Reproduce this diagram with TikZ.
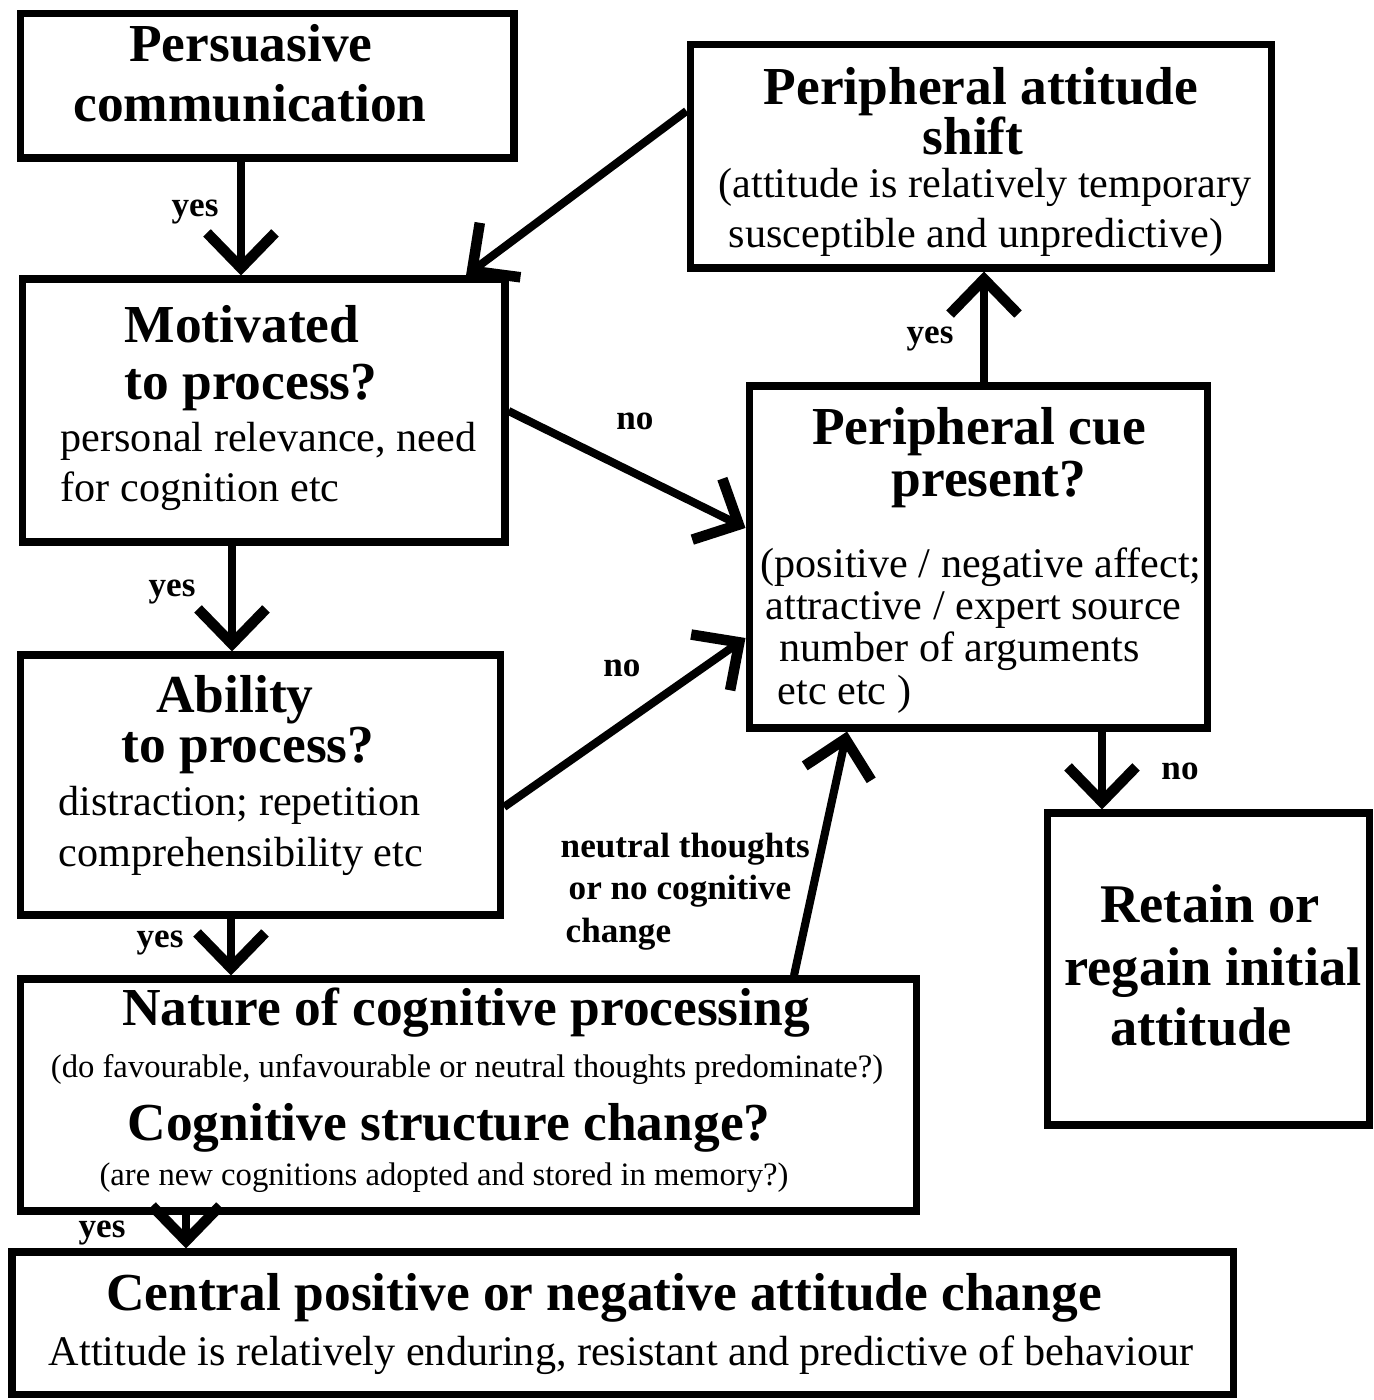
\documentclass[tikz,border=0pt]{standalone}
\usepackage{fontspec}
\setmainfont{Liberation Serif}
\usetikzlibrary{arrows.meta}

\begin{document}
\begin{tikzpicture}[x=0.1mm, y=-0.1mm,
    box/.style={draw, line width=2pt, inner sep=0pt},
    arr/.style={line width=2.3pt, -{Straight Barb[length=3.5mm,width=6.8mm,line width=3pt]}},
    head/.style={font=\fontsize{15.2}{17}\selectfont\bfseries, anchor=base, inner sep=0pt},
    body/.style={font=\fontsize{12}{14}\selectfont, anchor=base, inner sep=0pt},
    note/.style={font=\fontsize{9.3}{11}\selectfont, anchor=base, inner sep=0pt},
    lbl/.style={font=\fontsize{10}{12}\selectfont\bfseries, anchor=base, inner sep=0pt}]
  \useasboundingbox (0,0) rectangle (1373,1400);

  % boxes
  \node[box, minimum width=4.935cm, minimum height=1.44cm] (comm) at (267.25,86) {};
  \node[box, minimum width=4.825cm, minimum height=2.63cm] (motiv) at (263.75,410.5) {};
  \node[box, minimum width=5.81cm, minimum height=2.23cm] (pshift) at (980.5,156.5) {};
  \node[box, minimum width=4.58cm, minimum height=3.42cm] (cue) at (978,557) {};
  \node[box, minimum width=4.80cm, minimum height=2.60cm] (abil) at (260.5,785) {};
  \node[box, minimum width=3.22cm, minimum height=3.12cm] (retain) at (1208,969) {};
  \node[box, minimum width=8.955cm, minimum height=2.32cm] (nature) at (468.25,1095) {};
  \node[box, minimum width=12.21cm, minimum height=1.42cm] (central) at (622.5,1323) {};

  % texts
  \node[head] (comm-a) at (251,62) {Persuasive};
  \node[head] (comm-b) at (250,122) {communication};

  \node[head] (motiv-a) at (242,343) {Motivated};
  \node[head] (motiv-b) at (251,400) {to process?};
  \node[body, anchor=base west] (motiv-c) at (60,452) {personal relevance, need};
  \node[body, anchor=base west] (motiv-d) at (60,502) {for cognition etc};

  \node[head] (pshift-a) at (981,105) {Peripheral attitude};
  \node[head] (pshift-b) at (973,155) {shift};
  \node[body] (pshift-c) at (985,198) {(attitude is relatively temporary};
  \node[body] (pshift-d) at (976,248) {susceptible and unpredictive)};

  \node[head] (cue-a) at (979,445) {Peripheral cue};
  \node[head] (cue-b) at (989,497) {present?};
  \node[body, anchor=base west] (cue-c) at (760,578) {(positive / negative affect;};
  \node[body, anchor=base west] (cue-d) at (765,620) {attractive / expert source};
  \node[body, anchor=base west] (cue-e) at (779,662) {number of arguments};
  \node[body, anchor=base west] (cue-f) at (777,705) {etc etc )};

  \node[head] (abil-a) at (235,713) {Ability};
  \node[head] (abil-b) at (248,762) {to process?};
  \node[body, anchor=base west] (abil-c) at (58,815) {distraction; repetition};
  \node[body, anchor=base west] (abil-d) at (58,866) {comprehensibility etc};

  \node[head, font=\fontsize{15.5}{17}\selectfont\bfseries] (retain-a) at (1210,922) {Retain or};
  \node[head, font=\fontsize{15.5}{17}\selectfont\bfseries] (retain-b) at (1213,985) {regain initial};
  \node[head, font=\fontsize{15.5}{17}\selectfont\bfseries] (retain-c) at (1201,1045) {attitude};

  \node[head] (nature-a) at (466,1025) {Nature of cognitive processing};
  \node[note] (nature-b) at (467,1077) {(do favourable, unfavourable or neutral thoughts predominate?)};
  \node[head] (nature-c) at (449,1140) {Cognitive structure change?};
  \node[note] (nature-d) at (444,1185) {(are new cognitions adopted and stored in memory?)};

  \node[head] (central-a) at (604,1310) {Central positive or negative attitude change};
  \node[body] (central-b) at (621,1365) {Attitude is relatively enduring, resistant and predictive of behaviour};

  % connectors
  \draw[arr] (comm.south -| 241,0) -- (motiv.north -| 241,0);
  \draw[arr] (pshift.west |- 0,111) -- (motiv.north -| 466,0);
  \draw[arr] (motiv.east |- 0,411) -- (cue.west |- 0,528);
  \draw[arr] (motiv.south -| 232,0) -- (abil.north -| 232,0);
  \draw[arr] (abil.east |- 0,807) -- (cue.west |- 0,638);
  \draw[arr] (abil.south -| 231,0) -- (nature.north -| 231,0);
  \draw[arr] (nature.north -| 794,0) -- (cue.south -| 847,0);
  \draw[arr] (cue.north -| 984,0) -- (pshift.south -| 984,0);
  \draw[arr] (cue.south -| 1102,0) -- (retain.north -| 1102,0);
  \draw[arr] (nature.south -| 186,0) -- (central.north -| 186,0);

  % labels
  \node[lbl] (yes-a) at (195,217) {yes};
  \node[lbl] (no-a) at (635,430) {no};
  \node[lbl] (yes-b) at (172,597) {yes};
  \node[lbl] (no-b) at (622,677) {no};
  \node[lbl] (yes-c) at (160,947) {yes};
  \node[lbl] (yes-d) at (930,344) {yes};
  \node[lbl] (no-c) at (1180,779) {no};
  \node[lbl] (yes-e) at (102,1237) {yes};
  \node[lbl, anchor=base west] (neut-a) at (560,857) {neutral thoughts};
  \node[lbl, anchor=base west] (neut-b) at (568,899) {or no cognitive};
  \node[lbl, anchor=base west] (neut-c) at (565,942) {change};
\end{tikzpicture}
\end{document}
